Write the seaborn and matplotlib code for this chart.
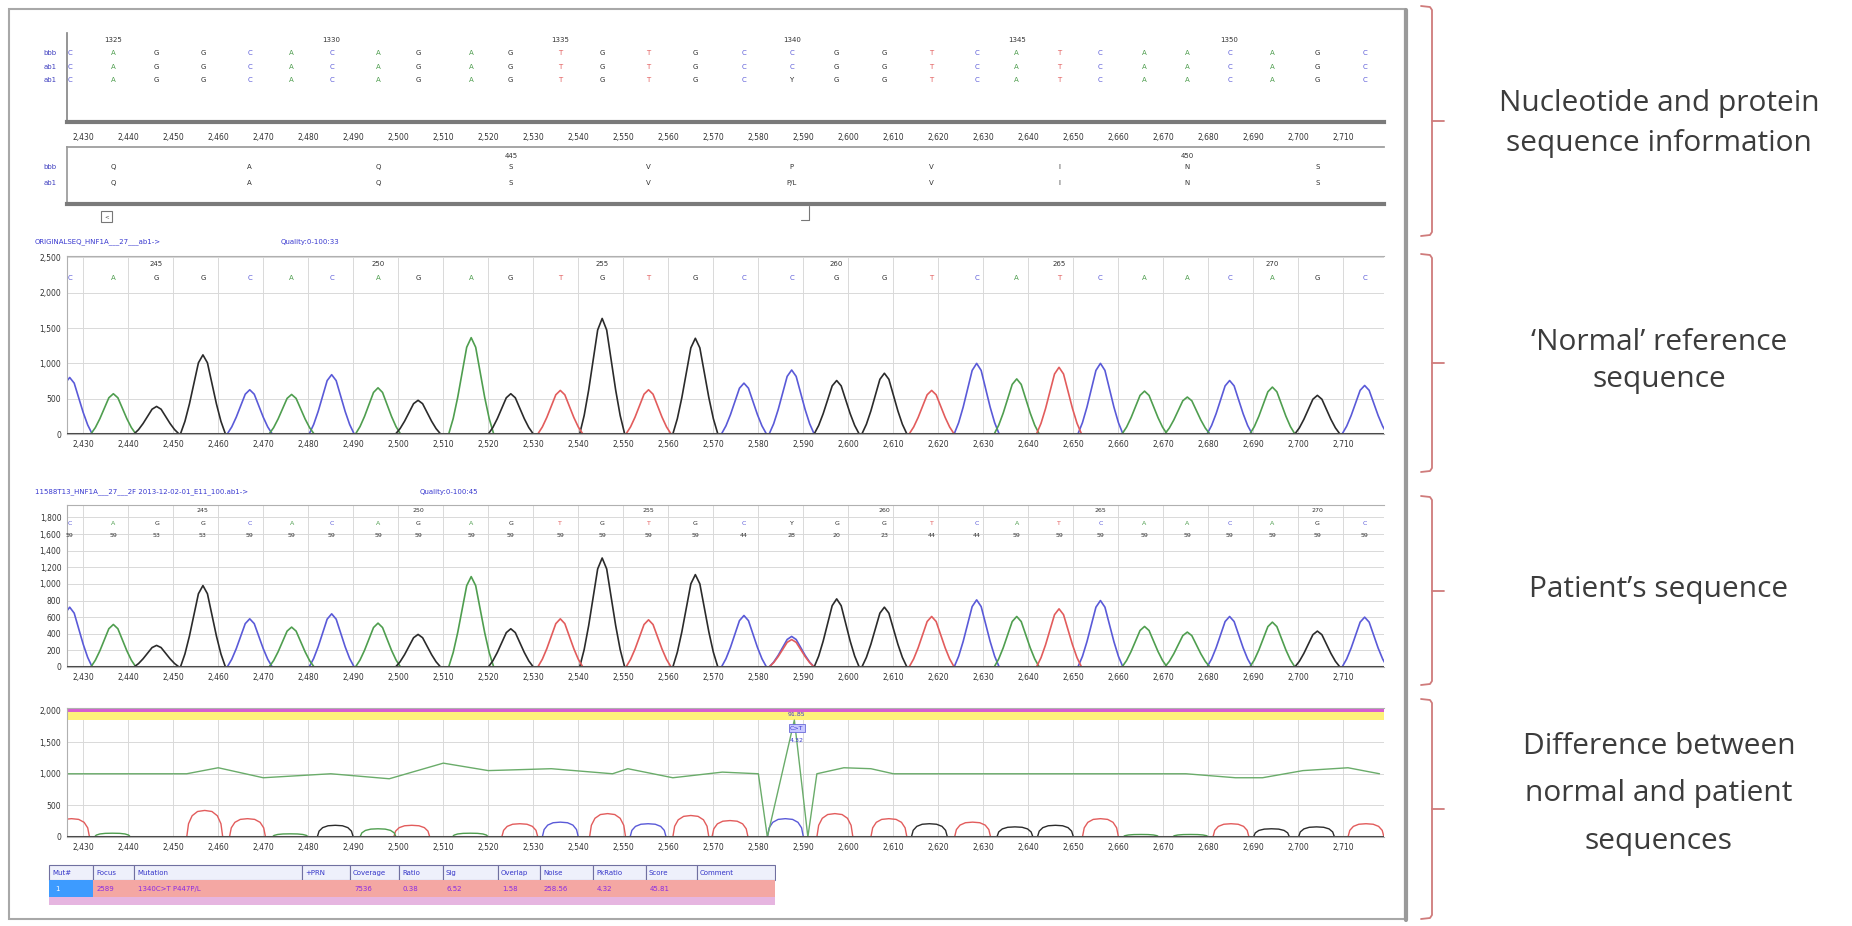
import numpy as np
import pandas as pd
import matplotlib
matplotlib.use("Agg")
import matplotlib.pyplot as plt
import seaborn as sns
from matplotlib.patches import Rectangle

sns.set_theme(style="white")
plt.rcParams['font.family'] = ['DejaVu Sans']

W, H = 1852, 926

# ---------------- data ----------------
bases = list("CAGGCACAGAGTGTGCCGGTCATCAACAGC")
pat_bases = list("CAGGCACAGAGTGTGCYGGTCATCAACAGC")
peak_scan = [2427.0, 2436.7, 2446.3, 2456.6, 2467.0, 2476.3, 2485.2, 2495.5, 2504.4, 2516.2,
             2525.0, 2536.0, 2545.3, 2555.6, 2566.0, 2576.8, 2587.4, 2597.4, 2608.0, 2618.5,
             2628.5, 2637.4, 2646.8, 2656.0, 2665.8, 2675.3, 2684.7, 2694.2, 2704.2, 2714.7]
ref_height = [800, 570, 390, 1120, 626, 560, 840, 654, 477, 1364, 570, 617, 1636, 626, 1355,
              720, 906, 757, 860, 617, 1000, 780, 944, 1000, 607, 523, 757, 664, 547, 687]
pat_height = [720, 512, 260, 980, 580, 480, 640, 528, 392, 1088, 460, 580, 1312, 568, 1112,
              620, 368, 820, 720, 608, 808, 608, 700, 800, 488, 420, 608, 540, 432, 600]
pat_peak_base = list("CAGGCACAGAGTGTGCCGGTCATCAACAGC")
pat_alt_index = [16]
pat_alt_base = ["T"]
pat_alt_height = [330]
pat_quality = [59, 59, 53, 53, 59, 59, 59, 59, 59, 59, 59, 59, 59, 59, 59,
               44, 28, 20, 23, 44, 44, 59, 59, 59, 59, 59, 59, 59, 59, 59]

nt_numbers = [1325, 1330, 1335, 1340, 1345, 1350]
nt_number_idx = [1, 6, 11, 16, 21, 26]
protein_ref = ["Q", "A", "Q", "S", "V", "P", "V", "I", "N", "S"]
protein_pat = ["Q", "A", "Q", "S", "V", "P/L", "V", "I", "N", "S"]
residue_numbers = [445, 450]
residue_number_idx = [3, 8]
ref_pos_labels = [245, 250, 255, 260, 265, 270]
ref_pos_idx = [2, 7, 12, 17, 22, 27]
pat_pos_labels = [245, 250, 255, 260, 265, 270]
pat_pos_idx = [3, 8, 13, 18, 23, 28]
x_ticks = [2430, 2440, 2450, 2460, 2470, 2480, 2490, 2500, 2510, 2520, 2530, 2540, 2550,
           2560, 2570, 2580, 2590, 2600, 2610, 2620, 2630, 2640, 2650, 2660, 2670, 2680,
           2690, 2700, 2710]
ref_yticks = [0, 500, 1000, 1500, 2000, 2500]
pat_yticks = [0, 200, 400, 600, 800, 1000, 1200, 1400, 1600, 1800]
diff_yticks = [0, 500, 1000, 1500, 2000]

diff_scan = [2427.4, 2436.5, 2457.0, 2466.5, 2476.0, 2486.0, 2495.5, 2503.0, 2516.0, 2527.0,
             2536.0, 2546.5, 2555.5, 2565.0, 2573.7, 2586.0, 2597.0, 2609.0, 2618.0, 2627.6,
             2637.0, 2646.0, 2656.0, 2665.0, 2676.0, 2685.0, 2694.0, 2704.0, 2715.0]
diff_height = [290, 60, 420, 290, 50, 185, 130, 185, 60, 210, 235, 370, 210, 340, 260,
               290, 370, 290, 210, 235, 160, 185, 290, 40, 40, 210, 130, 160, 210]
diff_base = ["T", "A", "T", "T", "A", "G", "A", "T", "A", "T", "C", "T", "C", "T", "T",
             "C", "T", "T", "G", "T", "G", "G", "T", "A", "A", "T", "G", "G", "T"]
ratio_scan = [2426, 2453, 2460, 2470, 2485, 2498, 2510, 2520, 2534, 2547.6, 2551, 2561, 2572,
              2580, 2582, 2588, 2591, 2593, 2599, 2605, 2610, 2616, 2675, 2686, 2692, 2701,
              2711, 2718]
ratio_val = [1000, 1000, 1095, 937, 1000, 921, 1168, 1050, 1080, 1000, 1080, 937, 1026,
             1000, 0, 1850, 0, 1000, 1095, 1080, 1000, 1000, 1000, 937, 937, 1050, 1095, 1000]

table_header = ["Mut#", "Focus", "Mutation", "+PRN", "Coverage", "Ratio", "Sig", "Overlap",
                "Noise", "PkRatio", "Score", "Comment"]
table_row = ["1", "2589", "1340C>T P447P/L", "", "7536", "0.38", "6.52", "1.58", "258.56",
             "4.32", "45.81", ""]

side_labels = [["Nucleotide and protein", "sequence information"],
               ["\u2018Normal\u2019 reference", "sequence"],
               ["Patient\u2019s sequence"],
               ["Difference between", "normal and patient", "sequences"]]

# ---------------- styling ----------------
base_colors = {"A": "#4f9e4f", "C": "#5a5ad8", "G": "#2b2b2b", "T": "#e25c5c", "Y": "#2b2b2b"}
shape_dx = [-5, -4, -3, -2, -1, 0, 1, 2, 3, 4, 5]
shape_f = [0, .16, .38, .64, .9, 1, .9, .64, .38, .16, 0]
dome_dx = [-4, -3.6, -2.8, -1.6, 0, 1.6, 2.8, 3.6, 4]
dome_f = [0, .5, .8, .96, 1, .96, .8, .5, 0]
XLIM = (2426.4, 2719)

fig = plt.figure(figsize=(W / 100, H / 100), dpi=100)


def add_ax(x0, y0, x1, y1):
    return fig.add_axes([x0 / W, 1 - y1 / H, (x1 - x0) / W, (y1 - y0) / H])


def trace_frame(xs, hs, bs, dx, f):
    rows = []
    for i, (x, h, b) in enumerate(zip(xs, hs, bs)):
        for d, fr in zip(dx, f):
            rows.append({"scan": x + d, "signal": h * fr, "base": b, "peak": i})
    return pd.DataFrame(rows)


def style_chrom(ax, ylim, yticks):
    ax.set_xlim(*XLIM)
    ax.set_ylim(*ylim)
    ax.set_xticks(x_ticks)
    ax.set_xticklabels([f"{t:,}" for t in x_ticks])
    ax.set_yticks(yticks)
    ax.set_yticklabels([f"{t:,}" for t in yticks])
    ax.tick_params(labelsize=5.5, length=2, pad=2, colors="#333333")
    ax.grid(True, color="#d9d9d9", lw=0.7)
    for s in ["top", "left", "bottom"]:
        ax.spines[s].set_color("#b0b0b0")
        ax.spines[s].set_linewidth(0.8)
    ax.spines["right"].set_visible(False)
    ax.set_xlabel("")
    ax.set_ylabel("")
    ax.axhline(0, color="#4a4a4a", lw=2.2, zorder=3)


# annotation axes covering the whole figure (pixel coords)
ann = fig.add_axes([0, 0, 1, 1])
ann.set_xlim(0, W)
ann.set_ylim(H, 0)
ann.axis("off")
ann.add_patch(Rectangle((9, 9), 1396, 910, fill=False, ec="#a8a8a8", lw=1.5))
ann.plot([1406, 1406], [10, 920], color="#9a9a9a", lw=3)

# ---- nucleotide section ----
ax_nt = add_ax(67, 33, 1384, 122)
ax_nt.set_xlim(*XLIM)
ax_nt.set_ylim(0, 1)
ax_nt.set_yticks([])
ax_nt.set_xticks(x_ticks)
ax_nt.set_xticklabels([f"{t:,}" for t in x_ticks])
ax_nt.tick_params(labelsize=5.5, length=2, pad=6, colors="#333333")
for s in ["top", "right"]:
    ax_nt.spines[s].set_visible(False)
ax_nt.spines["left"].set_color("#888888")
ax_nt.spines["bottom"].set_color("#7a7a7a")
ax_nt.spines["bottom"].set_linewidth(3)
row_y = [0.775, 0.618, 0.472]
row_seqs = [bases, bases, pat_bases]
for ry, seq in zip(row_y, row_seqs):
    for x, b in zip(peak_scan, seq):
        ax_nt.text(x, ry, b, color=base_colors[b], fontsize=5, ha="center", va="center")
for n, i in zip(nt_numbers, nt_number_idx):
    ax_nt.text(peak_scan[i], 0.92, str(n), fontsize=5, ha="center", va="center", color="#333333")
for lab, y in zip(["bbb", "ab1", "ab1"], [53, 67, 80]):
    ann.text(50, y, lab, fontsize=5, color="#4040c0", ha="center", va="center")

# ---- protein section ----
ax_pr = add_ax(67, 147, 1384, 204)
ax_pr.set_xlim(*XLIM)
ax_pr.set_ylim(0, 1)
ax_pr.set_xticks([])
ax_pr.set_yticks([])
ax_pr.spines["right"].set_visible(False)
ax_pr.spines["top"].set_color("#9a9a9a")
ax_pr.spines["left"].set_color("#9a9a9a")
ax_pr.spines["bottom"].set_color("#7a7a7a")
ax_pr.spines["bottom"].set_linewidth(3)
for k, (pr, pp) in enumerate(zip(protein_ref, protein_pat)):
    x = peak_scan[3 * k + 1]
    ax_pr.text(x, 0.649, pr, fontsize=5, ha="center", va="center", color="#333333")
    ax_pr.text(x, 0.368, pp, fontsize=5, ha="center", va="center", color="#333333")
for n, i in zip(residue_numbers, residue_number_idx):
    ax_pr.text(peak_scan[3 * i + 1], 0.84, str(n), fontsize=5, ha="center", va="center",
               color="#333333")
for lab, y in zip(["bbb", "ab1"], [167, 183]):
    ann.text(50, y, lab, fontsize=5, color="#4040c0", ha="center", va="center")
ann.add_patch(Rectangle((101, 211), 11, 11, fill=False, ec="#777777", lw=0.8))
ann.text(106.5, 216.5, "<", fontsize=4, ha="center", va="center", color="#444444")
ann.plot([809, 809, 801], [206, 220, 220], color="#777777", lw=0.8)

# ---- reference chromatogram ----
ann.text(35, 242, "ORIGINALSEQ_HNF1A___27___ab1->", fontsize=5, color="#3a3ad0", va="center")
ann.text(281, 242, "Quality:0-100:33", fontsize=5, color="#3a3ad0", va="center")
ax_ref = add_ax(67, 256, 1384, 434)
ref_df = trace_frame(peak_scan, ref_height, bases, shape_dx, shape_f)
sns.lineplot(data=ref_df, x="scan", y="signal", hue="base", units="peak", estimator=None,
             palette=base_colors, legend=False, ax=ax_ref, lw=1.2, sort=False)
style_chrom(ax_ref, (0, 2520), ref_yticks)
for x, b in zip(peak_scan, bases):
    ax_ref.text(x, 2205, b, color=base_colors[b], fontsize=5, ha="center", va="center")
for n, i in zip(ref_pos_labels, ref_pos_idx):
    ax_ref.text(peak_scan[i], 2400, str(n), fontsize=5, ha="center", va="center", color="#333333")

# ---- patient chromatogram ----
ann.text(35, 492, "11588T13_HNF1A___27___2F 2013-12-02-01_E11_100.ab1->", fontsize=5,
         color="#3a3ad0", va="center")
ann.text(420, 492, "Quality:0-100:45", fontsize=5, color="#3a3ad0", va="center")
ax_pat = add_ax(67, 505, 1384, 667)
pat_df = trace_frame(peak_scan, pat_height, pat_peak_base, shape_dx, shape_f)
alt_df = trace_frame([peak_scan[i] for i in pat_alt_index], pat_alt_height, pat_alt_base,
                     shape_dx, shape_f)
alt_df["peak"] += 100
pat_all = pd.concat([pat_df, alt_df], ignore_index=True)
sns.lineplot(data=pat_all, x="scan", y="signal", hue="base", units="peak", estimator=None,
             palette=base_colors, legend=False, ax=ax_pat, lw=1.2, sort=False)
style_chrom(ax_pat, (0, 1950), pat_yticks)
for x, b, q in zip(peak_scan, pat_bases, pat_quality):
    ax_pat.text(x, 1725, b, color=base_colors[b], fontsize=4.5, ha="center", va="center")
    ax_pat.text(x, 1580, str(q), color="#333333", fontsize=4.5, ha="center", va="center")
for n, i in zip(pat_pos_labels, pat_pos_idx):
    ax_pat.text(peak_scan[i], 1880, str(n), fontsize=4.5, ha="center", va="center",
                color="#333333")

# ---- difference panel ----
ax_diff = add_ax(67, 708, 1384, 837)
ax_diff.axhspan(1850, 1975, color="#fff27a", lw=0, zorder=1)
ax_diff.axhspan(1975, 2040, color="#d65fd0", lw=0, zorder=1)
diff_df = trace_frame(diff_scan, diff_height, diff_base, dome_dx, dome_f)
sns.lineplot(data=diff_df, x="scan", y="signal", hue="base", units="peak", estimator=None,
             palette=base_colors, legend=False, ax=ax_diff, lw=1.0, sort=False)
ratio_df = pd.DataFrame({"scan": ratio_scan, "ratio": ratio_val})
sns.lineplot(data=ratio_df, x="scan", y="ratio", color="#6aac6a", lw=1.0, ax=ax_diff,
             sort=False, estimator=None)
style_chrom(ax_diff, (0, 2040), diff_yticks)
ax_diff.text(2588.5, 1930, "91.85", fontsize=4.5, ha="center", va="center", color="#3a3ad0",
             zorder=5)
ax_diff.text(2588.5, 1720, "C>T", fontsize=4.5, ha="center", va="center", color="#3a3ad0",
             bbox=dict(boxstyle="square,pad=0.2", fc="#c8c8ff", ec="#6a6ad8", lw=0.6), zorder=5)
ax_diff.text(2588.5, 1520, "4.32", fontsize=4.5, ha="center", va="center", color="#3a3ad0",
             zorder=5)

# ---- mutation table ----
ax_tab = add_ax(48, 864, 776, 906)
ax_tab.set_xlim(48, 776)
ax_tab.set_ylim(906, 864)
ax_tab.axis("off")
col_edges = [49, 93, 134, 302, 350, 399, 443, 498, 540, 593, 646, 697, 775]
for j, lab in enumerate(table_header):
    x0, x1 = col_edges[j], col_edges[j + 1]
    ax_tab.add_patch(Rectangle((x0, 865), x1 - x0, 15, fc="#eef0fb", ec="#7070a0", lw=0.8))
    ax_tab.text(x0 + 3, 872.5, lab, fontsize=5, color="#3535c8", va="center", ha="left")
ax_tab.add_patch(Rectangle((49, 880), 726, 17, fc="#f4a7a3", ec="none"))
ax_tab.add_patch(Rectangle((49, 897), 726, 8, fc="#e6b5e0", ec="none"))
ax_tab.add_patch(Rectangle((49, 880), 44, 17, fc="#3d9bff", ec="none"))
for j, val in enumerate(table_row):
    if val and j > 0:
        x0 = col_edges[j]
        ax_tab.text(x0 + 4, 888.5, val, fontsize=5, color="#8a2be2", va="center", ha="left")
ax_tab.text(55, 888.5, table_row[0], fontsize=5, color="white", va="center", ha="left")

# ---- side brackets and labels ----
spans = [(6, 236), (254, 472), (496, 685), (699, 919)]
line_ys = [[104, 144], [342, 380], [590], [746, 794, 841]]
bcol = "#cf7b7b"
for (y0, y1), lines, ys in zip(spans, side_labels, line_ys):
    ym = (y0 + y1) / 2
    ann.plot([1421, 1430, 1432, 1432, 1430, 1421], [y0, y0 + 1, y0 + 4, y1 - 4, y1 - 1, y1],
             color=bcol, lw=1.3)
    ann.plot([1432, 1444], [ym, ym], color=bcol, lw=1.3)
    for txt, y in zip(lines, ys):
        ann.text(1659, y, txt, fontsize=21.5, color="#3c3c3c", ha="center", va="center",
                 family=["Open Sans", "DejaVu Sans"])

fig.savefig("out.png", dpi=100)
